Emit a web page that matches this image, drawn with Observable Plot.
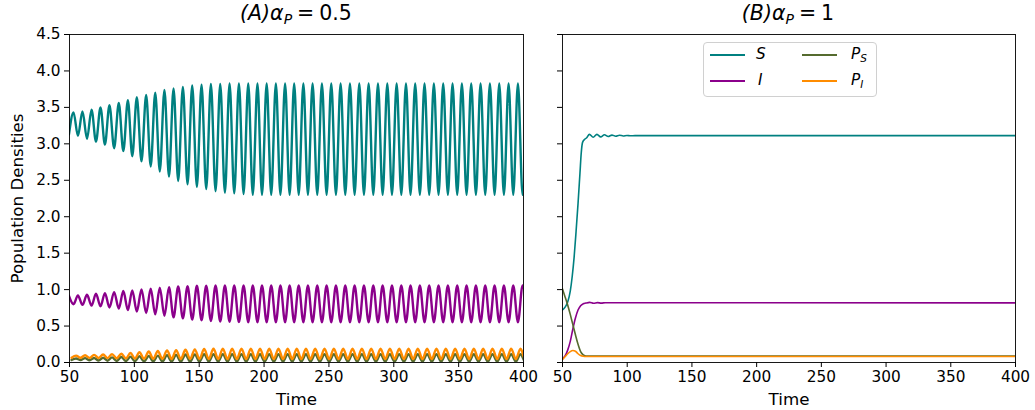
<!DOCTYPE html>
<html>
<head>
<meta charset="utf-8">
<script src="https://cdn.jsdelivr.net/npm/d3@7"></script>
<script src="https://cdn.jsdelivr.net/npm/@observablehq/plot@0.6"></script>
<style>
  body { margin: 0; width: 1035px; height: 410px; position: relative; background: white; font-family: "DejaVu Sans", sans-serif; overflow: hidden; }
  .panel { position: absolute; top: 0; }
  .title { position: absolute; top: 1px; transform: translateX(-50%); font-size: 20.5px; white-space: nowrap; color: black; }
  .title sub { font-size: 14px; vertical-align: -4px; line-height: 0; }
  .title .eq { padding: 0 5px; }
  .legend { position: absolute; left: 703px; top: 42px; width: 172px; height: 53px; border: 1px solid #d0d0d0; border-radius: 4px; background: rgba(255,255,255,0.85); }
  .sw { position: absolute; height: 2px; }
  .lab { position: absolute; font-size: 15.3px; font-style: italic; line-height: 1; color: black; }
  .lab sub { font-size: 10.5px; vertical-align: -3px; line-height: 0; }
  g[aria-label="x-axis label"] text, g[aria-label="y-axis label"] text { font-size: 16.7px; }
</style>
</head>
<body>
<div id="panelA" class="panel" style="left:0px"></div>
<div id="panelB" class="panel" style="left:540px"></div>
<div class="title" style="left:296px"><i>(A)α</i><sub><i>P</i></sub><span class="eq">=</span>0.5</div>
<div class="title" style="left:788px"><i>(B)α</i><sub><i>P</i></sub><span class="eq">=</span>1</div>
<div class="legend">
  <div class="sw" style="left:6px;top:11px;width:35px;background:#008080"></div>
  <div class="lab" style="left:52px;top:4px">S</div>
  <div class="sw" style="left:6px;top:37px;width:35px;background:#8B008B"></div>
  <div class="lab" style="left:54px;top:30px">I</div>
  <div class="sw" style="left:98px;top:11px;width:35px;background:#556B2F"></div>
  <div class="lab" style="left:147px;top:4px">P<sub>S</sub></div>
  <div class="sw" style="left:98px;top:37px;width:35px;background:#FF8C00"></div>
  <div class="lab" style="left:147px;top:30px">P<sub>I</sub></div>
</div>
<script>
// ---------- Panel A (alpha_P = 0.5): extrema ----------
// times of S maxima and S minima
const tPeakA = [53.1, 60.0, 67.0, 73.9, 80.8, 88.0, 95.0, 101.9, 109.1, 116.1, 123.2, 130.2, 137.4, 144.6, 151.8, 159.0, 166.2, 173.4, 180.6, 187.8, 194.9, 202.0, 209.1, 216.2, 223.2, 230.3, 237.4, 244.6, 251.8, 259.0, 266.2, 273.4, 280.6, 287.8, 295.0, 302.2, 309.4, 316.5, 323.7, 330.9, 338.1, 345.3, 352.5, 359.7, 366.9, 374.1, 381.3, 388.5, 395.7, 402.9];
const tTroughA = [49.6, 56.5, 63.5, 70.4, 77.3, 84.4, 91.5, 98.4, 105.5, 112.6, 119.6, 126.7, 133.8, 141.0, 148.2, 155.4, 162.6, 169.8, 177.0, 184.2, 191.3, 198.4, 205.5, 212.6, 219.7, 226.7, 233.8, 241.0, 248.2, 255.4, 262.6, 269.8, 277.0, 284.2, 291.4, 298.6, 305.8, 312.9, 320.1, 327.3, 334.5, 341.7, 348.9, 356.1, 363.3, 370.5, 377.7, 384.9, 392.1, 399.3];
// S: maxima (at tPeakA) and minima (at tTroughA)
const sMaxA = [3.43, 3.445, 3.47, 3.50, 3.53, 3.56, 3.60, 3.64, 3.67, 3.70, 3.74, 3.76, 3.78, 3.80, 3.81, 3.82, 3.82, 3.83, 3.83, 3.83, 3.83, 3.83, 3.83, 3.83, 3.83, 3.83, 3.83, 3.83, 3.83, 3.83, 3.83, 3.83, 3.83, 3.83, 3.83, 3.83, 3.83, 3.83, 3.83, 3.83, 3.83, 3.83, 3.83, 3.83, 3.83, 3.83, 3.83, 3.83, 3.83, 3.83];
const sMinA = [3.13, 3.11, 3.07, 3.03, 2.99, 2.94, 2.90, 2.83, 2.76, 2.69, 2.62, 2.55, 2.49, 2.445, 2.41, 2.38, 2.35, 2.33, 2.32, 2.31, 2.30, 2.30, 2.30, 2.30, 2.30, 2.30, 2.30, 2.30, 2.30, 2.30, 2.30, 2.30, 2.30, 2.30, 2.30, 2.30, 2.30, 2.30, 2.30, 2.30, 2.30, 2.30, 2.30, 2.30, 2.30, 2.30, 2.30, 2.30, 2.30, 2.30];
// I: maxima (at tTroughA) and minima (at tPeakA)
const iMaxA = [0.915, 0.920, 0.929, 0.943, 0.952, 0.966, 0.980, 0.988, 1.002, 1.011, 1.025, 1.034, 1.043, 1.047, 1.052, 1.055, 1.057, 1.058, 1.058, 1.058, 1.058, 1.058, 1.058, 1.058, 1.058, 1.058, 1.058, 1.058, 1.058, 1.058, 1.058, 1.058, 1.058, 1.058, 1.058, 1.058, 1.058, 1.058, 1.058, 1.058, 1.058, 1.058, 1.058, 1.058, 1.058, 1.058, 1.058, 1.058, 1.058, 1.058];
const iMinA = [0.800, 0.790, 0.780, 0.770, 0.755, 0.740, 0.720, 0.700, 0.680, 0.660, 0.640, 0.620, 0.605, 0.590, 0.580, 0.570, 0.562, 0.557, 0.555, 0.553, 0.553, 0.553, 0.553, 0.553, 0.553, 0.553, 0.553, 0.553, 0.553, 0.553, 0.553, 0.553, 0.553, 0.553, 0.553, 0.553, 0.553, 0.553, 0.553, 0.553, 0.553, 0.553, 0.553, 0.553, 0.553, 0.553, 0.553, 0.553, 0.553, 0.553];
// predators lag the S cycle by this many time units
const lagPA = 2.0;
const psMaxA = [0.055, 0.060, 0.062, 0.065, 0.070, 0.075, 0.080, 0.085, 0.090, 0.095, 0.100, 0.105, 0.110, 0.112, 0.115, 0.115, 0.115, 0.115, 0.115, 0.115, 0.115, 0.115, 0.115, 0.115, 0.115, 0.115, 0.115, 0.115, 0.115, 0.115, 0.115, 0.115, 0.115, 0.115, 0.115, 0.115, 0.115, 0.115, 0.115, 0.115, 0.115, 0.115, 0.115, 0.115, 0.115, 0.115, 0.115, 0.115, 0.115, 0.115];
const psMinA = [0.035, 0.033, 0.030, 0.028, 0.025, 0.022, 0.020, 0.018, 0.016, 0.015, 0.014, 0.013, 0.012, 0.012, 0.012, 0.012, 0.012, 0.012, 0.012, 0.012, 0.012, 0.012, 0.012, 0.012, 0.012, 0.012, 0.012, 0.012, 0.012, 0.012, 0.012, 0.012, 0.012, 0.012, 0.012, 0.012, 0.012, 0.012, 0.012, 0.012, 0.012, 0.012, 0.012, 0.012, 0.012, 0.012, 0.012, 0.012, 0.012, 0.012];
const piMaxA = [0.095, 0.100, 0.105, 0.110, 0.115, 0.120, 0.130, 0.140, 0.150, 0.160, 0.165, 0.170, 0.175, 0.180, 0.185, 0.188, 0.190, 0.190, 0.190, 0.190, 0.190, 0.190, 0.190, 0.190, 0.190, 0.190, 0.190, 0.190, 0.190, 0.190, 0.190, 0.190, 0.190, 0.190, 0.190, 0.190, 0.190, 0.190, 0.190, 0.190, 0.190, 0.190, 0.190, 0.190, 0.190, 0.190, 0.190, 0.190, 0.190, 0.190];
const piMinA = [0.065, 0.065, 0.063, 0.062, 0.060, 0.058, 0.056, 0.054, 0.052, 0.050, 0.050, 0.048, 0.048, 0.048, 0.048, 0.048, 0.048, 0.048, 0.048, 0.048, 0.048, 0.048, 0.048, 0.048, 0.048, 0.048, 0.048, 0.048, 0.048, 0.048, 0.048, 0.048, 0.048, 0.048, 0.048, 0.048, 0.048, 0.048, 0.048, 0.048, 0.048, 0.048, 0.048, 0.048, 0.048, 0.048, 0.048, 0.048, 0.048, 0.048];

// ---------- Panel B (alpha_P = 1): points ----------
const tS_B = [50, 52, 54, 56, 57.5, 59, 60.5, 62, 63.5, 64.5, 65.5, 67, 68.5, 70.8, 73.7, 76.6, 79.5, 82.4, 85.3, 88.2, 91.1, 94, 96.9, 99.8, 102.7, 106, 400];
const vS_B = [0.72, 0.76, 0.83, 0.98, 1.18, 1.45, 1.80, 2.18, 2.60, 2.88, 3.02, 3.06, 3.08, 3.13, 3.09, 3.13, 3.095, 3.125, 3.10, 3.12, 3.105, 3.118, 3.108, 3.115, 3.110, 3.113, 3.112];
const tI_B = [50, 52, 54, 56, 58, 60, 62, 64, 66, 68, 71, 74, 77, 80, 83, 400];
const vI_B = [0.05, 0.09, 0.17, 0.29, 0.46, 0.61, 0.72, 0.78, 0.805, 0.815, 0.825, 0.812, 0.822, 0.815, 0.82, 0.818];
const tPS_B = [50, 52, 54, 56, 58, 60, 62, 64, 66, 68, 70, 400];
const vPS_B = [1.01, 0.90, 0.79, 0.66, 0.52, 0.38, 0.25, 0.15, 0.105, 0.09, 0.088, 0.088];
const tPI_B = [50, 52, 54, 56, 58, 60, 62, 64, 66, 68, 400];
const vPI_B = [0.04, 0.08, 0.12, 0.15, 0.165, 0.155, 0.12, 0.095, 0.085, 0.082, 0.082];

const seriesNames = ["S", "I", "P_S", "P_I"];
const seriesColors = ["#008080", "#8B008B", "#556B2F", "#FF8C00"];
const xTicks = [50, 100, 150, 200, 250, 300, 350, 400];
const yTicks = [0, 0.5, 1, 1.5, 2, 2.5, 3, 3.5, 4, 4.5];

// ---------- build tables ----------
function extrema(series, tMax, vMax, tMin, vMin) {
  const pts = tMax.map((t, k) => ({series, t, v: vMax[k]}))
    .concat(tMin.map((t, k) => ({series, t, v: vMin[k]})));
  return pts.sort((a, b) => a.t - b.t);
}
const tPeakLag = tPeakA.map(t => t + lagPA);
const tTroughLag = tTroughA.map(t => t + lagPA);
const dataA = [
  ...extrema("S", tPeakA, sMaxA, tTroughA, sMinA),
  ...extrema("I", tTroughA, iMaxA, tPeakA, iMinA),
  ...extrema("P_S", tPeakLag, psMaxA, tTroughLag, psMinA),
  ...extrema("P_I", tPeakLag, piMaxA, tTroughLag, piMinA)
];
const pairs = (series, ts, vs) => ts.map((t, k) => ({series, t, v: vs[k]}));
const dataB = [
  ...pairs("S", tS_B, vS_B),
  ...pairs("I", tI_B, vI_B),
  ...pairs("P_S", tPS_B, vPS_B),
  ...pairs("P_I", tPI_B, vPI_B)
];

function panel(data, opts) {
  return Plot.plot({
    width: opts.width,
    height: 410,
    marginLeft: opts.marginLeft,
    marginRight: opts.marginRight,
    marginTop: 34,
    marginBottom: 48,
    style: {fontFamily: "DejaVu Sans", fontSize: "15.3px", color: "black", background: "transparent", overflow: "visible"},
    x: {domain: [50, 400]},
    y: {domain: [0, 4.5]},
    color: {domain: seriesNames, range: seriesColors},
    marks: [
      Plot.line(data, {x: "t", y: "v", z: "series", stroke: "series", strokeWidth: opts.lw, curve: "monotone-x", clip: true}),
      Plot.frame({stroke: "black", strokeWidth: 0.9}),
      Plot.axisX({ticks: xTicks, tickSize: 5, tickPadding: 4, fontSize: 15.3, label: "Time", labelAnchor: "center", labelArrow: "none", labelOffset: 42}),
      opts.yLabels
        ? Plot.axisY({ticks: yTicks, tickSize: 5, tickPadding: 4, fontSize: 15.3, tickFormat: d3.format(".1f"), label: "Population Densities", labelAnchor: "center", labelArrow: "none", labelOffset: 58})
        : Plot.axisY({ticks: yTicks, tickSize: 5, tickFormat: () => "", label: null})
    ]
  });
}

document.getElementById("panelA").appendChild(panel(dataA, {width: 540, marginLeft: 69, marginRight: 17, lw: 2.4, yLabels: true}));
document.getElementById("panelB").appendChild(panel(dataB, {width: 495, marginLeft: 22, marginRight: 20, lw: 1.6, yLabels: false}));
</script>
</body>
</html>
